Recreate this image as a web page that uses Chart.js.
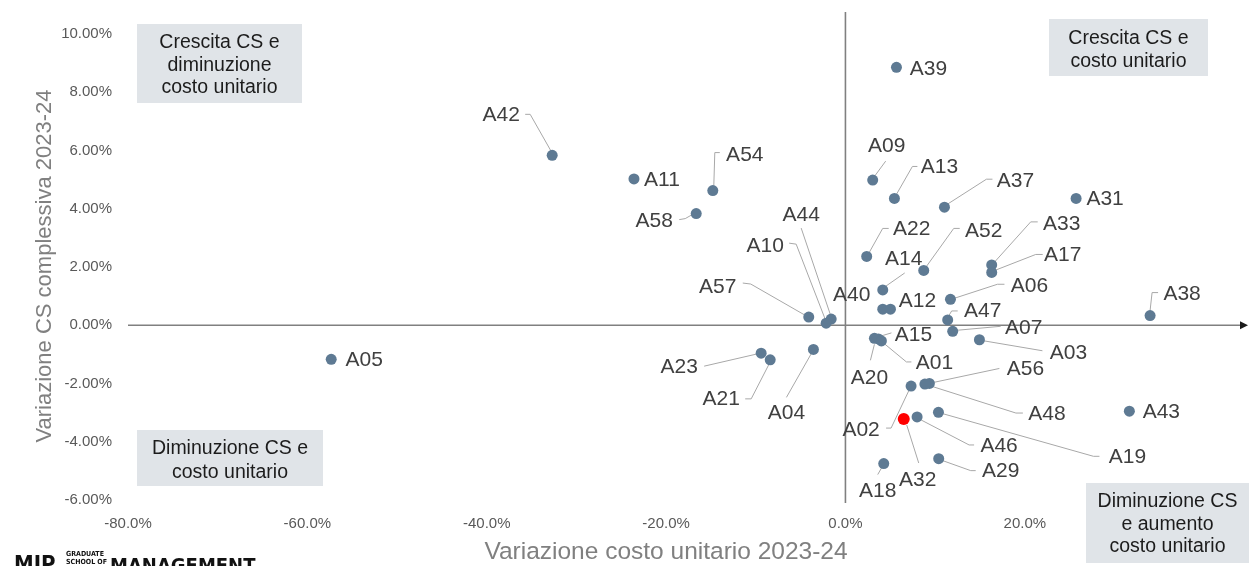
<!DOCTYPE html>
<html><head><meta charset="utf-8">
<script src="https://cdn.jsdelivr.net/npm/chart.js@4.4.1/dist/chart.umd.min.js"></script>
<style>html,body{margin:0;padding:0;background:#fff;overflow:hidden}#wrap{width:1249px;height:566px;position:relative}</style>
</head><body><div id="wrap"><canvas id="c" width="1249" height="566"></canvas></div>
<script>
// ---- data ----
const names   = ['A39','A42','A11','A54','A58','A09','A13','A37','A31','A22','A52','A33','A17','A14','A40','A12','A44','A10','A57','A06','A47','A07','A03','A15','A20','A01','A38','A23','A21','A04','A05','A56','A48','A02','A46','A32','A19','A43','A29','A18'];
const xValues = [5.69,-32.70,-23.58,-14.79,-16.64,3.04,5.46,11.04,25.72,2.37,8.73,16.31,16.31,4.16,4.16,5.02,-1.59,-2.15,-4.09,11.71,11.40,11.96,14.94,3.68,3.23,4.01,33.97,-9.40,-8.39,-3.57,-57.34,9.36,8.86,7.32,7.99,6.50,10.37,31.66,10.40,4.27];
const yValues = [8.85,5.83,5.02,4.62,3.83,4.98,4.35,4.05,4.35,2.36,1.88,2.07,1.81,1.21,0.55,0.55,0.21,0.07,0.28,0.89,0.18,-0.21,-0.50,-0.47,-0.45,-0.54,0.33,-0.96,-1.19,-0.83,-1.17,-2.00,-2.02,-2.09,-3.15,-3.22,-2.99,-2.95,-4.58,-4.75];
const highlighted = ['A32'];
const xTickValues = [-80,-60,-40,-20,0,20];
const yTickValues = [10,8,6,4,2,0,-2,-4,-6];
const xTitle = 'Variazione costo unitario 2023-24';
const yTitle = 'Variazione CS complessiva 2023-24';
const quadrantTexts = [
  ['Crescita CS e','diminuzione','costo unitario'],
  ['Crescita CS e','costo unitario'],
  ['Diminuzione CS e','costo unitario'],
  ['Diminuzione CS','e aumento','costo unitario']
];

// ---- layout (pixel offsets of labels relative to their point) ----
const labelLayout = {
  A39:{at:[32,2]},
  A42:{at:[-51,-40],leader:[[-27,-41],[-22,-41],[-1,-4]]},
  A11:{at:[28,1]},
  A54:{at:[32,-35],leader:[[7,-38],[2,-38],[1,-5]]},
  A58:{at:[-42,8],leader:[[-17,6],[-11,5],[-4,1]]},
  A09:{at:[14,-34],leader:[[13,-19],[2,-4]]},
  A13:{at:[45,-31],leader:[[23,-32],[18,-32],[2,-4]]},
  A37:{at:[71,-26],leader:[[48,-28],[42,-28],[3,-3]]},
  A31:{at:[29,1]},
  A22:{at:[45,-27],leader:[[22,-28],[16,-28],[2,-3]]},
  A52:{at:[60,-39],leader:[[36,-42],[30,-42],[2,-3]]},
  A33:{at:[70,-41],leader:[[46,-43],[39,-43],[3,-3]]},
  A17:{at:[71,-17],leader:[[51,-18],[44,-18],[3,-2]]},
  A14:{at:[21,-31],leader:[[22,-17],[2,-3]]},
  A40:{at:[-31,-14]},
  A12:{at:[27,-8]},
  A44:{at:[-30,-104],leader:[[-30,-91],[-1,-5]]},
  A10:{at:[-61,-77],leader:[[-37,-80],[-30,-79],[-1,-4]]},
  A57:{at:[-91,-30],leader:[[-66,-34],[-58,-33],[-4,-2]]},
  A06:{at:[79,-13],leader:[[54,-15],[47,-15],[4,-1]]},
  A47:{at:[35,-9],leader:[[10,-9],[4,-9],[1,-4]]},
  A07:{at:[71,-3],leader:[[48,-5],[4,-1]]},
  A15:{at:[35,-4],leader:[[13,-6],[3,-3]]},
  A03:{at:[89,13],leader:[[63,11],[4,1]]},
  A01:{at:[53,22],leader:[[30,21],[25,21],[2,2]]},
  A20:{at:[-5,40],leader:[[-4,22],[0,6]]},
  A38:{at:[32,-21],leader:[[8,-23],[2,-23],[0,-5]]},
  A23:{at:[-82,14],leader:[[-57,13],[-5,1]]},
  A21:{at:[-49,39],leader:[[-25,39],[-19,39],[-1,4]]},
  A04:{at:[-27,64],leader:[[-27,48],[-2,4]]},
  A05:{at:[33,1]},
  A56:{at:[96,-14],leader:[[70,-15],[4,-1]]},
  A48:{at:[122,30],leader:[[98,29],[91,29],[6,2]]},
  A02:{at:[-50,44],leader:[[-25,42],[-20,42],[-2,4]]},
  A46:{at:[82,29],leader:[[57,28],[52,28],[4,3]]},
  A32:{at:[14,61],leader:[[15,44],[3,6]]},
  A19:{at:[189,45],leader:[[161,44],[155,44],[3,1]]},
  A43:{at:[32,1]},
  A29:{at:[62,13],leader:[[37,12],[32,12],[4,2]]},
  A18:{at:[-6,28],leader:[[-6,11],[-2,4]]}
};
const quadrantBoxes = [
  {r:[137,24,165,79], cx:219.5, lines:[42,64.5,87]},
  {r:[1049,19,159,57], cx:1128.5, lines:[38,61]},
  {r:[137,430,186,56], cx:230, lines:[448,472]},
  {r:[1086,483,163,80], cx:1167.5, lines:[501,523.5,546]}
];

const FONT = '"Liberation Sans", Arial, sans-serif';
const pointColor = '#5e7a93';

const annotate = {
  id:'annotate',
  beforeDatasetsDraw(chart){
    const {ctx, chartArea:a, scales:{x,y}} = chart;
    const x0 = x.getPixelForValue(0), y0 = y.getPixelForValue(0);
    ctx.save();
    ctx.strokeStyle = '#808080'; ctx.lineWidth = 1.6;
    ctx.beginPath(); ctx.moveTo(a.left, y0); ctx.lineTo(a.right - 8, y0); ctx.stroke();
    ctx.beginPath(); ctx.moveTo(x0, a.top); ctx.lineTo(x0, a.bottom + 3); ctx.stroke();
    ctx.fillStyle = '#1a1a1a';
    ctx.beginPath(); ctx.moveTo(a.right - 1, y0); ctx.lineTo(a.right - 9, y0 - 4); ctx.lineTo(a.right - 9, y0 + 4); ctx.closePath(); ctx.fill();
    ctx.strokeStyle = '#a8a8a8'; ctx.lineWidth = 1;
    const meta = chart.getDatasetMeta(0);
    meta.data.forEach((pt, i) => {
      const L = labelLayout[names[i]];
      if (!L || !L.leader) return;
      ctx.beginPath();
      L.leader.forEach(([dx, dy], k) => k ? ctx.lineTo(pt.x + dx, pt.y + dy) : ctx.moveTo(pt.x + dx, pt.y + dy));
      ctx.stroke();
    });
    ctx.restore();
  },
  afterDatasetsDraw(chart){
    const {ctx} = chart;
    const meta = chart.getDatasetMeta(0);
    ctx.save();
    ctx.font = '21px ' + FONT;
    ctx.fillStyle = '#404040';
    ctx.textAlign = 'center'; ctx.textBaseline = 'middle';
    meta.data.forEach((pt, i) => {
      const L = labelLayout[names[i]];
      if (!L) return;
      ctx.fillText(names[i], pt.x + L.at[0], pt.y + L.at[1]);
    });
    ctx.restore();
  },
  afterDraw(chart){
    const {ctx} = chart;
    ctx.save();
    quadrantBoxes.forEach((b, i) => {
      ctx.fillStyle = '#e0e4e8';
      ctx.fillRect(b.r[0], b.r[1], b.r[2], b.r[3]);
      ctx.fillStyle = '#1c1c1c';
      ctx.font = '19.5px ' + FONT;
      ctx.textAlign = 'center'; ctx.textBaseline = 'middle';
      quadrantTexts[i].forEach((t, k) => ctx.fillText(t, b.cx, b.lines[k] + 1));
    });
    ctx.fillStyle = '#808080';
    ctx.textAlign = 'center'; ctx.textBaseline = 'middle';
    ctx.font = '24.5px ' + FONT;
    ctx.fillText(xTitle, 666, 552);
    ctx.save();
    ctx.translate(45, 266); ctx.rotate(-Math.PI / 2);
    ctx.font = '22px ' + FONT;
    ctx.fillText(yTitle, 0, 0);
    ctx.restore();
    ctx.fillStyle = '#111';
    ctx.textAlign = 'left'; ctx.textBaseline = 'alphabetic';
    ctx.font = 'bold 22px "DejaVu Sans Condensed", sans-serif';
    ctx.fillText('MIP', 14, 571);
    ctx.font = 'bold 7px "DejaVu Sans Condensed", sans-serif';
    ctx.fillText('GRADUATE', 66, 556);
    ctx.fillText('SCHOOL OF', 66, 564);
    ctx.font = 'bold 20px "DejaVu Sans Condensed", sans-serif';
    ctx.fillText('MANAGEMENT', 110, 572);
    ctx.restore();
  }
};

new Chart(document.getElementById('c'), {
  type: 'scatter',
  data: {
    datasets: [{
      data: names.map((n, i) => ({x: xValues[i], y: yValues[i]})),
      pointBackgroundColor: names.map(n => highlighted.includes(n) ? '#ff0000' : pointColor),
      pointRadius: names.map(n => highlighted.includes(n) ? 6 : 5.5),
      pointBorderWidth: 0,
      pointHoverRadius: 5.5,
      clip: false
    }]
  },
  options: {
    responsive: false,
    animation: false,
    events: [],
    layout: {autoPadding: false, padding: {top: 12, right: 0, left: 0, bottom: 0}},
    plugins: {legend: {display: false}, tooltip: {enabled: false}},
    scales: {
      x: {
        type: 'linear', min: -80, max: 45,
        grid: {display: false, drawTicks: false},
        border: {display: false},
        afterFit: s => { s.height = 66; s.paddingLeft = 0; s.paddingRight = 0; s.paddingTop = 0; s.paddingBottom = 0; },
        afterBuildTicks: s => { s.ticks = xTickValues.map(v => ({value: v})); },
        ticks: {padding: 15, color: '#595959', font: {family: FONT, size: 15}, maxRotation: 0, autoSkip: false,
          callback: v => Number(v).toFixed(1) + '%'}
      },
      y: {
        type: 'linear', min: -6, max: 10.75,
        grid: {display: false, drawTicks: false},
        border: {display: false},
        afterFit: s => { s.width = 128; s.paddingTop = 0; s.paddingBottom = 0; s.paddingLeft = 0; s.paddingRight = 0; },
        afterBuildTicks: s => { s.ticks = yTickValues.map(v => ({value: v})); },
        ticks: {padding: 16, color: '#595959', font: {family: FONT, size: 15}, autoSkip: false,
          callback: v => Number(v).toFixed(2) + '%'}
      }
    }
  },
  plugins: [annotate]
});
</script></body></html>
